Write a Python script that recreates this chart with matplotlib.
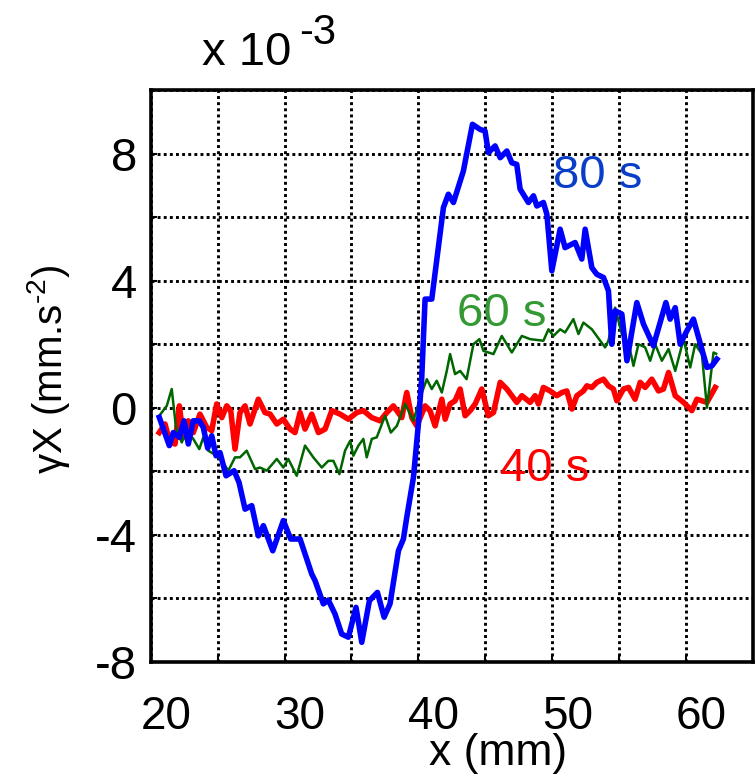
import matplotlib
matplotlib.use('Agg')
import matplotlib.pyplot as plt
from matplotlib.ticker import FixedLocator
from matplotlib.transforms import ScaledTranslation

plt.rcParams['font.family'] = ['Liberation Sans', 'DejaVu Sans']
plt.rcParams['mathtext.fontset'] = 'custom'
plt.rcParams['mathtext.rm'] = 'Liberation Sans'
plt.rcParams['mathtext.default'] = 'regular'

# 80 s curve (blue)
x_80 = [20.64, 21.39, 21.69, 22.14, 22.49, 22.81, 23.18, 23.63, 23.93, 24.26, 24.56, 24.88, 25.18, 25.63,
        26.23, 26.60, 27.05, 27.55, 28.04, 28.42, 29.12, 29.91, 30.46, 31.16, 32.03, 32.28, 32.90, 33.27,
        33.77, 34.27, 34.77, 35.34, 35.77, 36.34, 36.94, 37.44, 37.88, 38.51, 38.88, 39.13, 39.63, 40.00,
        40.25, 40.50, 41.00, 41.87, 42.24, 42.62, 43.36, 44.04, 44.61, 44.98, 45.23, 45.73, 46.11, 46.61,
        46.98, 47.35, 47.60, 48.22, 48.60, 48.85, 49.34, 49.60, 49.97, 50.59, 50.96, 51.71, 52.21, 52.46,
        52.96, 53.33, 53.83, 54.20, 54.45, 54.70, 55.20, 55.58, 56.32, 56.82, 57.56, 58.49, 58.81, 59.19,
        59.56, 60.06, 60.55, 61.56, 61.93, 62.30]
y_80 = [-0.30, -1.19, -0.78, -0.93, -0.41, -1.14, -0.41, -0.41, -0.62, -1.27, -0.88, -1.51, -1.41, -2.14,
        -1.98, -2.35, -3.19, -3.08, -4.03, -3.71, -4.50, -3.55, -4.13, -4.13, -5.23, -5.44, -6.17, -6.05,
        -6.49, -7.12, -7.22, -6.28, -7.38, -6.07, -5.81, -6.59, -6.17, -4.50, -4.13, -3.45, -2.19, -0.51,
        0.95, 3.42, 3.42, 6.30, 6.72, 6.46, 7.45, 8.92, 8.76, 8.71, 8.03, 8.24, 7.87, 8.08,
        7.71, 7.66, 6.88, 6.46, 6.67, 6.35, 6.46, 6.09, 4.31, 5.62, 5.04, 5.20, 4.68, 5.62,
        4.41, 4.20, 4.10, 3.68, 2.00, 3.05, 2.95, 1.48, 3.31, 2.63, 1.95, 3.31, 2.79, 3.15,
        2.00, 2.42, 2.79, 1.27, 1.32, 1.53]

# 60 s curve (green)
x_60 = [20.64, 21.20, 21.57, 21.89, 22.32, 22.69, 23.18, 23.63, 23.93, 24.30, 24.93, 25.31, 25.80, 26.30,
        26.67, 27.17, 27.80, 28.17, 28.67, 29.42, 29.91, 30.28, 30.91, 31.53, 32.15, 32.78, 33.27, 33.65,
        34.10, 34.52, 34.90, 35.14, 35.52, 35.89, 36.14, 36.52, 36.89, 37.51, 37.94, 38.39, 39.01, 39.63,
        40.13, 40.63, 41.00, 41.37, 41.75, 42.12, 42.37, 42.74, 43.12, 43.60, 44.11, 44.56, 44.86, 45.61,
        46.23, 46.98, 47.73, 48.35, 49.34, 49.72, 50.09, 50.59, 50.96, 51.58, 51.96, 52.33, 52.96, 53.58,
        53.95, 54.20, 54.70, 55.20, 55.70, 56.07, 56.44, 56.94, 57.32, 57.69, 58.19, 58.69, 59.19, 59.81,
        60.31, 60.68, 61.18, 61.56, 62.05, 62.25]
y_60 = [-0.25, 0.06, 0.59, -0.62, -1.09, -0.72, -0.98, -1.30, -0.93, -1.35, -1.51, -1.67, -1.98, -1.56,
        -1.56, -1.35, -1.93, -1.88, -1.98, -1.61, -1.88, -1.61, -2.14, -1.19, -1.56, -1.88, -1.67, -1.67,
        -2.09, -1.35, -1.04, -1.51, -1.19, -0.98, -1.56, -0.98, -0.93, -0.25, -0.78, -0.57, 0.12, -0.41,
        0.32, 0.90, 0.59, 0.85, 0.48, 1.16, 1.69, 1.06, 1.16, 0.90, 2.00, 2.16, 1.79, 1.69,
        2.26, 1.74, 2.26, 2.16, 2.11, 2.47, 2.26, 2.47, 2.37, 2.79, 2.32, 2.68, 2.47, 2.11,
        1.90, 2.11, 3.15, 2.32, 2.03, 1.32, 2.00, 1.90, 1.48, 2.00, 1.48, 1.85, 1.16, 2.16,
        1.27, 2.00, 1.69, 0.00, 1.74, 1.70]

# 40 s curve (red)
x_40 = [20.64, 21.07, 21.44, 21.82, 22.14, 22.44, 22.81, 23.18, 23.68, 24.19, 24.56, 24.93, 25.31, 25.68,
        25.98, 26.30, 26.67, 27.05, 27.42, 28.04, 28.54, 28.92, 29.42, 29.91, 30.41, 30.78, 31.16, 31.53,
        32.03, 32.53, 33.03, 33.53, 34.15, 34.77, 35.40, 35.89, 36.52, 37.14, 37.64, 38.13, 38.76, 39.13,
        39.51, 39.88, 40.50, 40.87, 41.25, 41.75, 42.00, 42.37, 42.74, 43.12, 43.49, 43.87, 44.24, 44.74,
        45.23, 45.61, 46.11, 46.61, 47.35, 47.73, 48.35, 48.72, 48.97, 49.34, 49.84, 50.34, 50.72, 51.09,
        51.47, 51.84, 52.33, 52.59, 52.96, 53.33, 53.83, 54.20, 54.57, 54.83, 55.32, 55.70, 56.19, 56.57,
        56.94, 57.44, 57.94, 58.31, 58.69, 59.19, 59.81, 60.43, 60.81, 61.18, 61.56, 62.18]
y_40 = [-0.78, -0.51, -1.09, -1.14, 0.06, -0.93, -0.41, -0.78, -0.20, -0.62, -0.72, 0.12, -0.31, 0.06,
        -0.09, -1.30, -0.15, 0.06, -0.51, 0.27, -0.15, -0.20, -0.51, -0.36, -0.67, -0.78, -0.15, -0.67,
        -0.20, -0.78, -0.67, -0.09, -0.20, -0.36, -0.15, -0.09, -0.31, -0.41, -0.15, 0.06, -0.31, 0.48,
        -0.31, -0.57, 0.06, -0.09, -0.57, 0.27, -0.36, 0.12, 0.22, 0.59, -0.25, -0.09, 0.12, 0.59,
        -0.25, -0.15, 0.80, 0.59, 0.17, 0.38, 0.17, 0.38, 0.12, 0.64, 0.53, 0.38, 0.48, 0.53,
        -0.04, 0.38, 0.53, 0.69, 0.64, 0.80, 0.90, 0.69, 0.59, 0.22, 0.59, 0.64, 0.27, 0.80,
        0.64, 0.90, 0.53, 0.59, 1.11, 0.38, 0.17, -0.09, 0.27, 0.22, 0.17, 0.64]

x_major = [20, 30, 40, 50, 60]
x_minor = [25, 35, 45, 55, 65]
y_major = [-8, -4, 0, 4, 8]
y_minor = [-6, -2, 2, 6, 10]

fig = plt.figure(figsize=(7.56, 7.75), dpi=100)
ax = fig.add_axes([150.7 / 756, 1 - 662 / 775, 602.3 / 756, 572 / 775])

ax.plot(x_40, y_40, color='#ff0000', lw=4.0, zorder=3)
ax.plot(x_60, y_60, color='#006600', lw=1.8, zorder=4)
ax.plot(x_80, y_80, color='#0000ff', lw=4.0, zorder=5)

ax.set_xlim(20, 65)
ax.set_ylim(-8, 10)
ax.xaxis.set_major_locator(FixedLocator(x_major))
ax.xaxis.set_minor_locator(FixedLocator(x_minor))
ax.yaxis.set_major_locator(FixedLocator(y_major))
ax.yaxis.set_minor_locator(FixedLocator(y_minor))
ax.set_xticklabels([str(v) for v in x_major])
ax.set_yticklabels([str(v) for v in y_major])

ax.grid(True, which='both', color='black', linestyle=(0, (1, 1.1)), linewidth=2.1)
ax.set_axisbelow(True)
for sp in ax.spines.values():
    sp.set_linewidth(2.6)
    sp.set_zorder(6)

ax.tick_params(axis='both', which='both', direction='in', length=4, width=1.5,
               top=False, right=False)
ax.tick_params(axis='x', which='major', labelsize=33, pad=24)
ax.tick_params(axis='y', which='major', labelsize=34, pad=10)
for lab in ax.get_xticklabels():
    lab.set_transform(lab.get_transform() + ScaledTranslation(15 / 100, 0, fig.dpi_scale_trans))

ax.text(50.07, 6.92, '80 s', color='#0a3ec8', fontsize=34, ha='left', va='baseline', zorder=7)
ax.text(42.89, 2.58, '60 s', color='#339933', fontsize=34, ha='left', va='baseline', zorder=7)
ax.text(46.10, -2.30, '40 s', color='#ff0000', fontsize=34, ha='left', va='baseline', zorder=7)

# scale factor above the y axis
fig.text(202 / 756, 1 - 65 / 775, 'x 10', fontsize=34, ha='left', va='baseline')
fig.text(299 / 756, 1 - 44 / 775, '-3', fontsize=30, ha='left', va='baseline')

fig.text(48 / 756, 1 - 369 / 775, 'γX (mm.s$^{\u20102}$)', fontsize=29, rotation=90,
         ha='center', va='center')
fig.text(498 / 756, 1 - 765 / 775, 'x (mm)', fontsize=32, ha='center', va='baseline')

fig.savefig('out.png', dpi=100)
